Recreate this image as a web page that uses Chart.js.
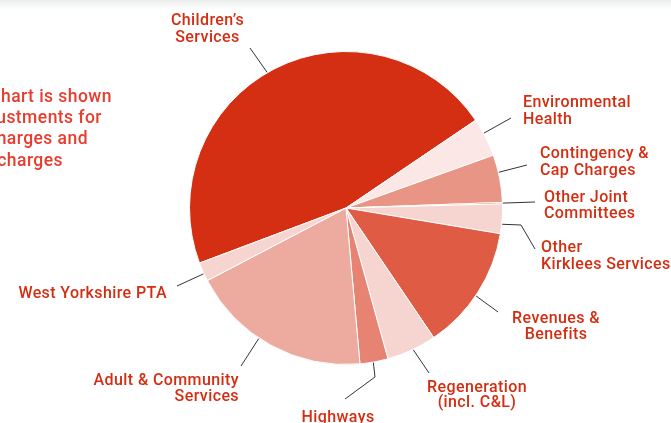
<!DOCTYPE html>
<html><head><meta charset="utf-8">
<script src="https://cdn.jsdelivr.net/npm/chart.js@4/dist/chart.umd.min.js"></script>
<style>
html,body{margin:0;padding:0;}
body{width:671px;height:423px;overflow:hidden;background:linear-gradient(#eceeee 0px,#ffffff 10px);}
#wrap{position:relative;width:671px;height:423px;}
canvas{display:block;}
</style></head><body>
<div id="wrap"><canvas id="c" width="671" height="423"></canvas></div>
<script>
// ---- data ----
const categories = ["Children's Services","Environmental Health","Contingency & Cap Charges","Other Joint Committees","Other Kirklees Services","Revenues & Benefits","Regeneration (incl. C&L)","Highways","Adult & Community Services","West Yorkshire PTA"];
const labelLines = [["Children\u2019s","Services"],["Environmental","Health"],["Contingency &","Cap Charges"],["Other Joint","Committees"],["Other","Kirklees Services"],["Revenues &","Benefits"],["Regeneration","(incl. C&L)"],["Highways"],["Adult & Community","Services"],["West Yorkshire PTA"]];
const values = [46.25, 4.0, 4.9, 0.15, 3.05, 12.9, 5.15, 2.9, 18.75, 1.95];
const noteLines = ["The chart is shown","after adjustments for","capital charges and","recharges"];

// ---- styles / layout ----
const sliceColors = ["#d42f13","#fbe7e5","#e99585","#e0553c","#f6d4d0","#df5b43","#f6d4d0","#e68373","#edab9f","#f6d4d0"];
const labelColor = "#d42e12";
const noteColor = "#e83c2d";
const labelLayout = [
  {frac:0.483, path:[[-96,-160]], tx:-138.5, ty:[-183,-166], align:'center'},
  {frac:0.39, path:[[165,-90]], tx:177, ty:[-101,-84.5], align:'left'},
  {frac:0.37, path:[[181,-43]], tx:194, ty:[-50,-33], align:'left'},
  {frac:0.5, path:[[189,-6]], tx:198, ty:[-6,10], align:'left'},
  {frac:0.68, path:[[175,17],[189,41]], tx:195, ty:[44,61], align:'left'},
  {frac:0.53, path:[[152,104]], tx:210, ty:[115,130.5], align:'center'},
  {frac:0.47, path:[[83,165]], tx:131, ty:[184,199], align:'center'},
  {frac:0.53, path:[[29,169],[-1,191]], tx:-8, ty:[214], align:'center'},
  {frac:0.576, path:[[-105,158]], tx:-107, ty:[177,193], align:'right'},
  {frac:0.4, path:[[-169,78]], tx:-179, ty:[90], align:'right'}
];
const noteLayout = {right:[112,102,88,63], base:[102,123,144,166]};

const labelPlugin = {
  id:'labels',
  afterDatasetsDraw(chart){
    const ctx = chart.ctx;
    const arcs = chart.getDatasetMeta(0).data;
    ctx.save();
    // note text (clipped at left edge)
    ctx.font = "500 17.5px Roboto";
    ctx.letterSpacing = "0.45px";
    ctx.fillStyle = noteColor;
    ctx.textAlign = 'right';
    ctx.textBaseline = 'alphabetic';
    noteLines.forEach((t,i)=>ctx.fillText(t, noteLayout.right[i], noteLayout.base[i]));
    // leaders and labels
    ctx.letterSpacing = "0.4px";
    arcs.forEach((arc,i)=>{
      const L = labelLayout[i];
      const cx = arc.x, cy = arc.y;
      const a = arc.startAngle + (arc.endAngle-arc.startAngle)*L.frac;
      const r = arc.outerRadius + 0.5;
      ctx.beginPath();
      ctx.strokeStyle = "#333333";
      ctx.lineWidth = 1;
      ctx.moveTo(cx + r*Math.cos(a), cy + r*Math.sin(a));
      L.path.forEach(p=>ctx.lineTo(cx+p[0], cy+p[1]));
      ctx.stroke();
      ctx.font = "500 16px Roboto";
      ctx.fillStyle = labelColor;
      ctx.textAlign = L.align;
      labelLines[i].forEach((t,j)=>ctx.fillText(t, cx+L.tx, cy+L.ty[j]));
    });
    ctx.restore();
  }
};

new Chart(document.getElementById('c'), {
  type:'pie',
  data:{labels:categories, datasets:[{data:values, backgroundColor:sliceColors, borderColor:'#ffffff', borderWidth:1, hoverOffset:0}]},
  options:{
    responsive:false, animation:false, rotation:249.4,
    layout:{padding:{top:51,bottom:58,left:189,right:168}},
    plugins:{legend:{display:false}, tooltip:{enabled:false}}
  },
  plugins:[labelPlugin]
});
</script>
</body></html>
